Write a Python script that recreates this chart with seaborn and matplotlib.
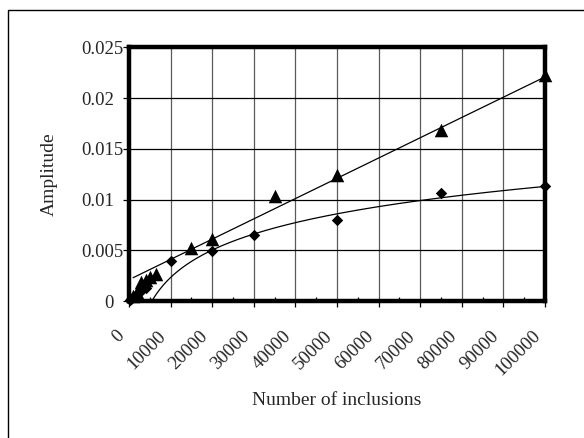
import numpy as np
import pandas as pd
import matplotlib
matplotlib.use("Agg")
import matplotlib.pyplot as plt
import matplotlib.transforms as mtransforms
from matplotlib.patches import Rectangle
from matplotlib.ticker import MultipleLocator
import seaborn as sns

# Measured amplitudes, triangle series
tri_x = [1000, 2000, 3000, 4000, 5000, 6500, 15000, 20000, 35000, 50000, 75000, 100000]
tri_y = [0.0005, 0.0009, 0.0019, 0.0021, 0.0024, 0.0027, 0.0052, 0.0061, 0.0104, 0.0124, 0.0169, 0.0223]

# Measured amplitudes, diamond series
dia_x = [200, 500, 1000, 2000, 3000, 4000, 10000, 20000, 30000, 50000, 75000, 100000]
dia_y = [0.0001, 0.0002, 0.0004, 0.0007, 0.0010, 0.0013, 0.0039, 0.0049, 0.0065, 0.0080, 0.0107, 0.0113]

# Trend lines: linear for triangles, logarithmic for diamonds
lin_slope, lin_intercept = 2.0e-7, 0.0021
log_coef, log_const = 0.0039, -0.0336   # y = a*ln(x) + b

x_ticks = list(range(0, 100001, 10000))
y_ticks = [0, 0.005, 0.01, 0.015, 0.02, 0.025]
y_tick_labels = ["0", "0.005", "0.01", "0.015", "0.02", "0.025"]

sns.set_style("white")
plt.rcParams["font.family"] = ["Liberation Serif", "DejaVu Serif"]

fig = plt.figure(figsize=(5.84, 4.38), dpi=100)
ax = fig.add_axes([129 / 584, 1 - 301 / 438, 416 / 584, 253.5 / 438])

tri_df = pd.DataFrame({"x": tri_x, "y": tri_y})
dia_df = pd.DataFrame({"x": dia_x, "y": dia_y})

xl = np.linspace(min(tri_x), max(tri_x), 200)
lin_df = pd.DataFrame({"x": xl, "y": lin_slope * xl + lin_intercept})
xg = np.linspace(min(dia_x), max(dia_x), 4000)
log_df = pd.DataFrame({"x": xg, "y": log_coef * np.log(xg) + log_const})

sns.lineplot(data=lin_df, x="x", y="y", ax=ax, color="black", linewidth=0.9, zorder=3)
sns.lineplot(data=log_df, x="x", y="y", ax=ax, color="black", linewidth=0.9, zorder=3)
sns.scatterplot(data=tri_df, x="x", y="y", ax=ax, marker="^", s=95, color="black",
                edgecolor="black", linewidth=0, zorder=4, clip_on=False)
sns.scatterplot(data=dia_df, x="x", y="y", ax=ax, marker="D", s=34, color="black",
                edgecolor="black", linewidth=0, zorder=4, clip_on=False)

ax.set_xlim(0, 100000)
ax.set_ylim(0, 0.025)
ax.set_xticks(x_ticks)
ax.set_xticklabels([])
ax.xaxis.set_minor_locator(MultipleLocator(5000))
ax.set_yticks(y_ticks)
ax.set_yticklabels([])

# Slanted x tick labels, anchored just below-left of each tick
xlab_trans = mtransforms.blended_transform_factory(ax.transData, ax.transAxes) + \
    mtransforms.ScaledTranslation(-9.5 / 72, -19 / 72, fig.dpi_scale_trans)
for v in x_ticks:
    ax.text(v, 0, str(v), transform=xlab_trans, rotation=45, ha="right", va="top",
            rotation_mode="anchor", fontsize=13.5, clip_on=False)

# y tick labels; the shorter ones sit one digit further from the axis
ylab_base = mtransforms.blended_transform_factory(ax.transAxes, ax.transData)
for v, s in zip(y_ticks, y_tick_labels):
    gap_px = 5 if len(s) == 5 else 15
    tr = ylab_base + mtransforms.ScaledTranslation(-gap_px / 100, 0, fig.dpi_scale_trans)
    ax.text(0, v, s, transform=tr, ha="right", va="center_baseline",
            fontsize=13.5, clip_on=False)

ax.grid(False)
for v in x_ticks[1:-1]:
    ax.axvline(v, color="#5a5a5a", linewidth=0.9, zorder=1)
for v in y_ticks[1:-1]:
    ax.axhline(v, color="black", linewidth=0.9, zorder=1)

for side in ["left", "right", "top", "bottom"]:
    ax.spines[side].set_visible(True)
    ax.spines[side].set_linewidth(3.2)
    ax.spines[side].set_color("black")
    ax.spines[side].set_zorder(5)

ax.tick_params(axis="x", which="major", direction="out", length=4, width=0.9,
               color="black", bottom=True)
ax.tick_params(axis="x", which="minor", direction="in", length=3, width=0.9,
               color="black", bottom=True)
ax.tick_params(axis="y", which="major", direction="out", length=4, width=0.9,
               color="black", left=True)

ax.set_xlabel("Number of inclusions", fontsize=14)
ax.xaxis.set_label_coords(0.5, -(392 - 301) / 253.5)
ax.set_ylabel("Amplitude", fontsize=14)
ax.yaxis.set_label_coords(-(129 - 58) / 416, 0.5)

# Outer chart border (open towards the right and bottom edges)
fig.add_artist(Rectangle((8 / 584, -0.1), 1.2, 1 - 10 / 438 + 0.1,
                         transform=fig.transFigure, fill=False,
                         edgecolor="black", linewidth=1.0, clip_on=False))

fig.savefig("out.png", dpi=100, facecolor="white")
